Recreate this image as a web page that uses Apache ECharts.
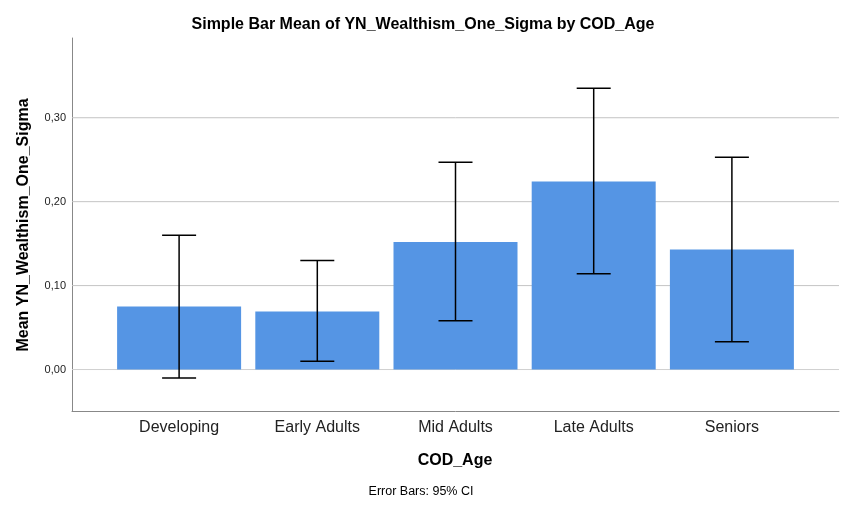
<!DOCTYPE html>
<html>
<head>
<meta charset="utf-8">
<script src="https://cdn.jsdelivr.net/npm/echarts@6/dist/echarts.min.js"></script>
<style>html,body{margin:0;padding:0;background:#fff;}#c{width:856px;height:509px;}</style>
</head>
<body>
<div id="c"></div>
<script>
const categories = ['Developing', 'Early Adults', 'Mid Adults', 'Late Adults', 'Seniors'];
const means = [0.075, 0.069, 0.152, 0.224, 0.143];
const ciLow = [-0.010, 0.010, 0.058, 0.114, 0.033];
const ciHigh = [0.160, 0.130, 0.247, 0.335, 0.253];
const yTicks = [0, 0.1, 0.2, 0.3];
const titleText = 'Simple Bar Mean of YN_Wealthism_One_Sigma by COD_Age';
const yName = 'Mean YN_Wealthism_One_Sigma';
const xName = 'COD_Age';
const footnote = 'Error Bars: 95% CI';

const FONT = 'Liberation Sans, Arial, sans-serif';
const X_MIN = -0.775, X_MAX = 4.775;

const chart = echarts.init(document.getElementById('c'));
chart.setOption({
  animation: false,
  backgroundColor: '#fff',
  grid: { left: 72, right: 17, top: 38, bottom: 97.5, containLabel: false },
  xAxis: {
    type: 'value', min: X_MIN, max: X_MAX,
    axisLine: { show: true, onZero: false, lineStyle: { color: '#888', width: 1 } },
    axisTick: { show: false },
    splitLine: { show: false },
    axisLabel: {
      customValues: categories.map((c, i) => i),
      formatter: v => categories[Math.round(v)],
      color: '#222', fontSize: 16, fontFamily: FONT, margin: 8
    }
  },
  yAxis: {
    type: 'value', min: -0.05, max: 0.395,
    axisLine: { show: true, onZero: false, lineStyle: { color: '#888', width: 1 } },
    axisTick: { show: false },
    splitLine: { show: false },
    axisLabel: {
      customValues: yTicks,
      formatter: v => v.toFixed(2).replace('.', ','),
      color: '#222', fontSize: 11, fontFamily: FONT, margin: 6
    }
  },
  graphic: [
    { type: 'text', x: 423, y: 25, style: { text: titleText, font: 'bold 16px ' + FONT, fill: '#000', textAlign: 'center', textVerticalAlign: 'middle' } },
    { type: 'text', x: 24, y: 225, rotation: Math.PI / 2, style: { text: yName, font: 'bold 16px ' + FONT, fill: '#000', textAlign: 'center', textVerticalAlign: 'middle' } },
    { type: 'text', x: 455, y: 461, style: { text: xName, font: 'bold 16px ' + FONT, fill: '#000', textAlign: 'center', textVerticalAlign: 'middle' } },
    { type: 'text', x: 421, y: 492, style: { text: footnote, font: '12.5px ' + FONT, fill: '#000', textAlign: 'center', textVerticalAlign: 'middle' } }
  ],
  series: [
    {
      type: 'custom', z: 1, silent: true,
      data: yTicks.map(v => [v]),
      renderItem: (params, api) => {
        const v = api.value(0);
        const p1 = api.coord([X_MIN, v]);
        const p2 = api.coord([X_MAX, v]);
        return { type: 'line', shape: { x1: p1[0], y1: p1[1], x2: p2[0], y2: p2[1] },
          style: { stroke: v === 0 ? '#d0d0d0' : '#c4c4c4', lineWidth: 1 } };
      }
    },
    {
      type: 'bar', z: 2, barWidth: 124,
      data: means.map((m, i) => [i, m]),
      itemStyle: { color: '#5595e4' }
    },
    {
      type: 'custom', z: 3, silent: true,
      data: categories.map((c, i) => [i, ciLow[i], ciHigh[i]]),
      renderItem: (params, api) => {
        const x = api.value(0);
        const lo = api.coord([x, api.value(1)]);
        const hi = api.coord([x, api.value(2)]);
        const hw = 17;
        const st = { stroke: '#000', lineWidth: 1.5 };
        return { type: 'group', children: [
          { type: 'line', shape: { x1: lo[0], y1: lo[1], x2: hi[0], y2: hi[1] }, style: st },
          { type: 'line', shape: { x1: lo[0] - hw, y1: lo[1], x2: lo[0] + hw, y2: lo[1] }, style: st },
          { type: 'line', shape: { x1: hi[0] - hw, y1: hi[1], x2: hi[0] + hw, y2: hi[1] }, style: st }
        ] };
      }
    }
  ]
});
</script>
</body>
</html>
